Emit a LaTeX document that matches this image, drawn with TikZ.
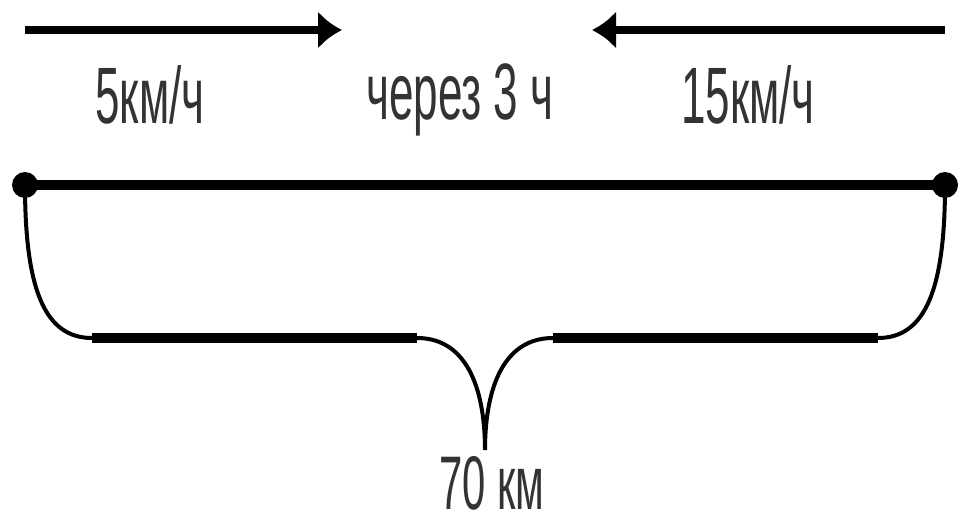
\documentclass[tikz,border=0pt]{standalone}
\usepackage{fontspec}
\setmainfont[FakeStretch=0.55]{Liberation Sans}
\usetikzlibrary{arrows.meta,positioning}

\begin{document}
\begin{tikzpicture}[x=1pt,y=-1pt,
  every node/.style={font=\fontsize{80}{80}\selectfont, text=black!80},
  dot/.style={circle, fill=black, inner sep=0pt, minimum size=26pt},
  line/.style={line width=10pt},
  arr/.style={-{Latex[length=24pt,width=38pt]}, line width=8pt},
  brace/.style={line width=4pt, line cap=round}]
  \useasboundingbox (0,0) rectangle (961,524);
  % motion arrows
  \coordinate (a1) at (25,30);
  \coordinate (a2) at (342,30);
  \coordinate (b1) at (945,30);
  \coordinate (b2) at (592,30);
  \draw[arr] (a1)--(a2);
  \draw[arr] (b1)--(b2);
  \node (v1) at (150,95) {5км/ч};
  \node (t) at (460,100) {через 3 ч};
  \node (v2) at (748,95) {15км/ч};
  % road
  \node[dot] (A) at (25,185) {};
  \node[dot] (B) at (945,185) {};
  \draw[line] (A.center)--(B.center);
  % brace
  \coordinate (l1) at (92,338);
  \coordinate (l2) at (417,338);
  \coordinate (tip) at (485,450);
  \coordinate (r2) at (553,338);
  \coordinate (r1) at (878,338);
  \draw[brace] (A.center) .. controls (25,290) and (45,338) .. (l1)
    -- (l2) .. controls (470,338) and (485,395) .. (tip)
    .. controls (485,395) and (500,338) .. (r2)
    -- (r1) .. controls (925,338) and (945,290) .. (B.center);
  \draw[line width=10pt] (l1)--(l2);
  \draw[line width=10pt] (r2)--(r1);
  \node[inner sep=0pt,font=\fontsize{76}{76}\selectfont] (d) at (492,483) {70 км};
\end{tikzpicture}
\end{document}
